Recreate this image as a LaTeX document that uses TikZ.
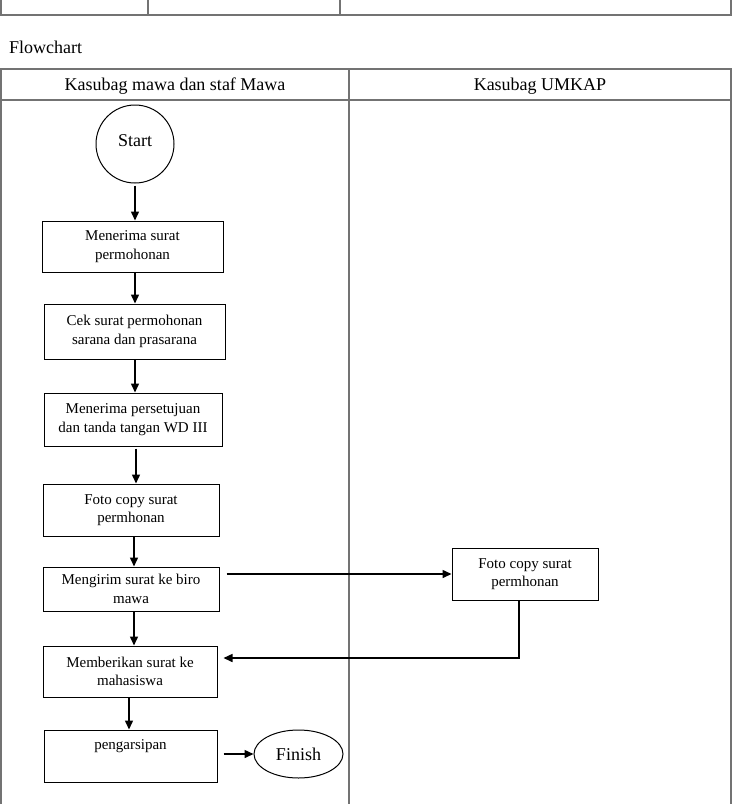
\documentclass[tikz,border=0pt]{standalone}
\usepackage{fontspec}
\setmainfont{Liberation Serif}
\usetikzlibrary{arrows.meta,shapes.geometric}
\begin{document}
\begin{tikzpicture}[x=1pt,y=-1pt,
  tline/.style={draw=black!55, line width=1.3pt},
  box/.style={draw, line width=1pt, rectangle, align=center, inner sep=0pt, font=\fontsize{15}{18.3}\selectfont},
  arr/.style={-{Triangle[length=9pt,width=8pt]}, line width=1.5pt},
  big/.style={font=\fontsize{18}{21}\selectfont, inner sep=0pt}]
\useasboundingbox (0,0) rectangle (733,804);
% top table remnant
\draw[tline] (1,0) -- (1,15) -- (731,15) -- (731,0);
\draw[tline] (148,0) -- (148,15);
\draw[tline] (340,0) -- (340,15);
\node[big, anchor=base west] (title) at (9,53) {Flowchart};
% main table
\draw[tline] (1,804) -- (1,69) -- (731,69) -- (731,804);
\draw[tline] (1,100) -- (731,100);
\draw[tline] (349,69) -- (349,804);
\node[big, anchor=base] (h1) at (175,90) {Kasubag mawa dan staf Mawa};
\node[big, anchor=base] (h2) at (540,90) {Kasubag UMKAP};
% nodes
\node[draw, circle, line width=1pt, minimum size=78pt, inner sep=0pt, big] (start) at (135,144) {\raisebox{7pt}{Start}};
\node[box, minimum width=181pt, minimum height=51pt] (b1) at (132.5,246.5) {Menerima surat\\permohonan};
\node[box, minimum width=181pt, minimum height=55pt] (b2) at (134.5,331.5) {Cek surat permohonan\\sarana dan prasarana};
\node[box, minimum width=178pt, minimum height=53pt] (b3) at (133,419.5) {Menerima persetujuan\\dan tanda tangan WD III};
\node[box, minimum width=176pt, minimum height=52pt] (b4) at (131,510) {Foto copy surat\\permhonan};
\node[box, minimum width=176pt, minimum height=44pt] (b5) at (131,589) {Mengirim surat ke biro\\mawa};
\node[box, minimum width=146pt, minimum height=52pt] (r1) at (525,574) {Foto copy surat\\permhonan};
\node[box, minimum width=174pt, minimum height=51pt] (b6) at (130,671.5) {Memberikan surat ke\\mahasiswa};
\node[box, minimum width=173pt, minimum height=52pt] (b7) at (130.5,756) {pengarsipan\\\strut};
\node[draw, ellipse, line width=1pt, minimum width=89pt, minimum height=48pt, inner sep=0pt, big] (fin) at (298.5,754) {Finish};
% connectors
\draw[arr] ([yshift=-2pt]start.south) coordinate (t0) -- (t0 |- b1.north);
\draw[arr] ([xshift=2.5pt]b1.south) coordinate (t1) -- (t1 |- b2.north);
\draw[arr] ([xshift=0.5pt]b2.south) coordinate (t2) -- (t2 |- b3.north);
\draw[arr] ([xshift=3pt,yshift=-2pt]b3.south) coordinate (t3) -- (t3 |- b4.north);
\draw[arr] ([xshift=3pt]b4.south) coordinate (t4) -- (t4 |- b5.north);
\coordinate (c1) at ([xshift=7pt]b5.east);
\draw[arr] (c1 |- r1.west) -- (r1.west);
\draw[arr] ([xshift=3pt]b5.south) coordinate (t5) -- (t5 |- b6.north);
\coordinate (c2) at ([xshift=6pt,yshift=13.5pt]b6.east);
\draw[arr] ([xshift=-6pt]r1.south) |- (c2);
\draw[arr] ([xshift=-1pt]b6.south) coordinate (t6) -- (t6 |- b7.north);
\coordinate (c3) at ([xshift=6pt]b7.east);
\draw[arr] (c3 |- fin.west) -- (fin.west);
\end{tikzpicture}
\end{document}
